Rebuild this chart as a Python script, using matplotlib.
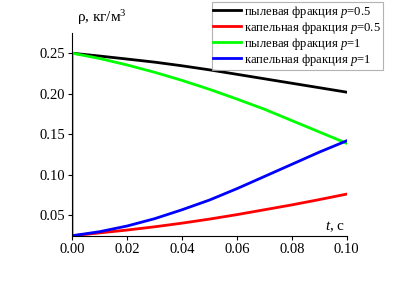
import matplotlib
matplotlib.use('Agg')
import matplotlib.pyplot as plt

plt.rcParams['font.family'] = ['Liberation Serif', 'DejaVu Serif']
plt.rcParams['mathtext.fontset'] = 'custom'
plt.rcParams['mathtext.rm'] = 'Liberation Serif'
plt.rcParams['mathtext.it'] = 'Liberation Serif:italic'

# time, c
t = [0.0, 0.01, 0.02, 0.03, 0.04, 0.05, 0.06, 0.07, 0.08, 0.09, 0.10]
# p = 0.5
dust_05 = [0.25, 0.2465, 0.2428, 0.239, 0.2345, 0.2295, 0.224, 0.2185, 0.213, 0.2075, 0.202]
drop_05 = [0.025, 0.0285, 0.032, 0.036, 0.0405, 0.0455, 0.051, 0.057, 0.063, 0.0695, 0.0763]
# p = 1 (dust starts with a jump at t=0)
t_dust_1 = [0.0, 0.0, 0.01, 0.02, 0.03, 0.04, 0.05, 0.06, 0.07, 0.08, 0.09, 0.10]
dust_1 = [0.025, 0.25, 0.2435, 0.2355, 0.2265, 0.2165, 0.2055, 0.1935, 0.181, 0.167, 0.153, 0.139]
drop_1 = [0.025, 0.030, 0.037, 0.046, 0.057, 0.069, 0.083, 0.098, 0.113, 0.128, 0.142]

labels = ['пылевая фракция $p$=0.5', 'капельная фракция $p$=0.5',
          'пылевая фракция $p$=1', 'капельная фракция $p$=1']

fig = plt.figure(figsize=(4.04, 2.84), dpi=100)
ax = fig.add_axes([0.179, 0.170, 0.679, 0.714])

lw = 2.0
ax.plot(t, dust_05, color='black', lw=lw, label=labels[0])
ax.plot(t, drop_05, color='#ff0000', lw=lw, label=labels[1])
ax.plot(t_dust_1, dust_1, color='#00ff00', lw=lw, label=labels[2])
ax.plot(t, drop_1, color='#0000ff', lw=lw, label=labels[3])

ax.set_xlim(0, 0.10)
ax.set_ylim(0.025, 0.275)
ax.set_xticks([0.0, 0.02, 0.04, 0.06, 0.08, 0.10])
ax.set_xticklabels(['0.00', '0.02', '0.04', '0.06', '0.08', '0.10'])
ax.set_yticks([0.05, 0.10, 0.15, 0.20, 0.25])
ax.set_yticklabels(['0.05', '0.10', '0.15', '0.20', '0.25'])
ax.tick_params(labelsize=10.5, length=3, width=0.8, direction='out', pad=2)
for s in ['top', 'right']:
    ax.spines[s].set_visible(False)

fig.text(0.19, 0.905, 'ρ, кг/м$^3$', fontsize=11, ha='left', va='bottom')
ax.text(0.0995, 0.0275, '$t$, с', fontsize=11, ha='right', va='bottom')

leg = fig.legend(loc='upper right', bbox_to_anchor=(0.948, 0.993), fontsize=9.05,
                 frameon=True, fancybox=False, handlelength=2.15, handletextpad=0.3,
                 labelspacing=0.0, borderpad=0.15, borderaxespad=0.0)
leg.get_frame().set_edgecolor('#a0a0a0')
leg.get_frame().set_linewidth(0.8)

fig.savefig('out.png', dpi=100)
